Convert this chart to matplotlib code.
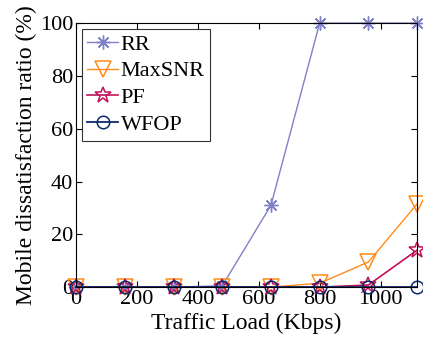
#!/usr/bin/env python3
"""Mobile dissatisfaction ratio vs traffic load for four schedulers."""

import matplotlib
matplotlib.use("Agg")
import matplotlib.pyplot as plt

load = [0, 160, 320, 480, 640, 800, 960, 1120]
rr = [0, 0, 0, 0.5, 31, 100, 100, 100]
maxsnr = [0, 0, 0, 0, 0, 1.5, 9.5, 31.5]
pf = [0, 0, 0, 0, 0, 0, 0.8, 14]
wfop = [0, 0, 0, 0, 0, 0, 0, 0]

plt.rcParams["font.family"] = ["Liberation Serif", "DejaVu Serif"]

fig, ax = plt.subplots(figsize=(4.23, 3.39), dpi=100)
fig.subplots_adjust(left=0.18, right=0.986, top=0.932, bottom=0.153)

ax.plot(load, rr, color="#8080c8", lw=1.0, marker=(8, 2, 0), ms=10,
        mew=1.0, label="RR", clip_on=False)
ax.plot(load, maxsnr, color="#ff8c1a", lw=1.0, marker="v", ms=11,
        mfc="none", mew=1.1, label="MaxSNR", clip_on=False)
ax.plot(load, pf, color="#c0105a", lw=1.2, marker="*", ms=12,
        mfc="none", mew=1.1, label="PF", clip_on=False)
ax.plot(load, wfop, color="#0a2a6a", lw=1.3, marker="o", ms=9,
        mfc="none", mew=1.1, label="WFOP", clip_on=False)

ax.set_xlim(0, 1120)
ax.set_ylim(0, 100)
ax.set_xticks([0, 200, 400, 600, 800, 1000])
ax.set_yticks([0, 20, 40, 60, 80, 100])
ax.tick_params(direction="in", labelsize=16, top=True, right=True,
               length=4, pad=2)
ax.set_xlabel("Traffic Load (Kbps)", fontsize=17, labelpad=3)
ax.set_ylabel("Mobile dissatisfaction ratio (%)", fontsize=17, labelpad=2)

leg = ax.legend(loc="upper left", fontsize=16, frameon=True, fancybox=False,
                edgecolor="black", handlelength=1.4, handletextpad=0.1,
                borderpad=0.25, labelspacing=0.28, borderaxespad=0.25)
leg.get_frame().set_linewidth(0.8)

fig.savefig("out.png", dpi=100)
